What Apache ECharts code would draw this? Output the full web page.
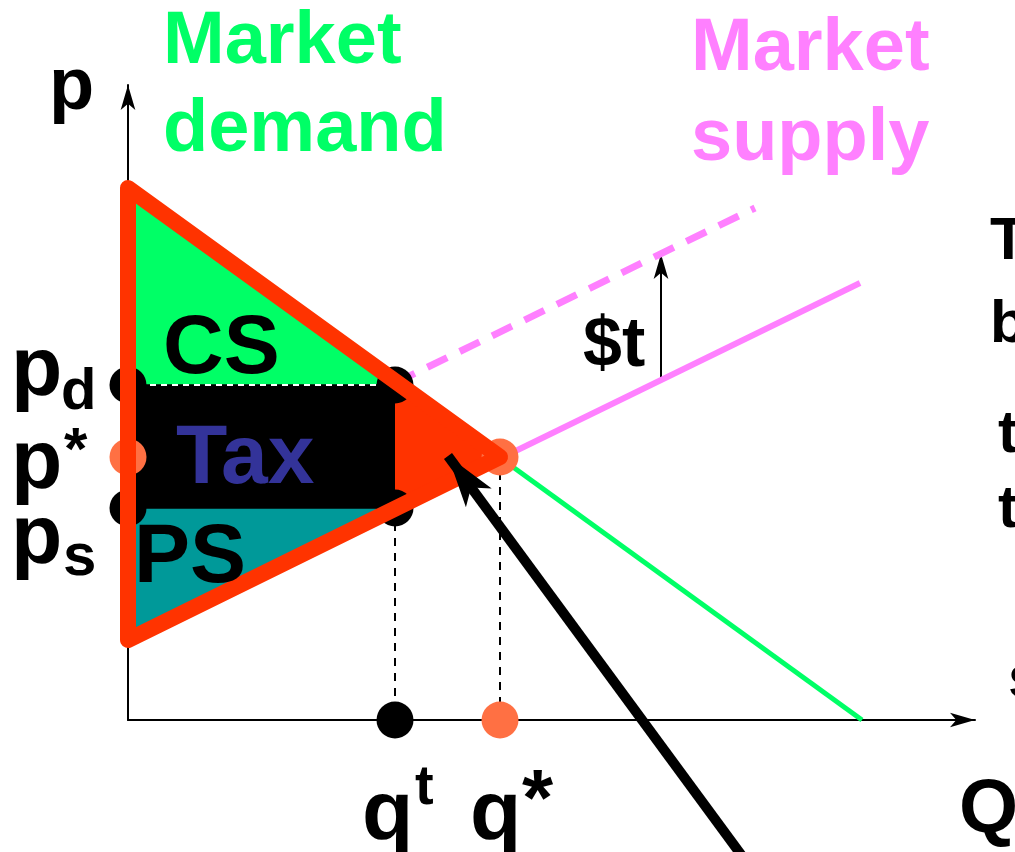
<!DOCTYPE html>
<html>
<head>
<meta charset="utf-8">
<script src="https://cdn.jsdelivr.net/npm/echarts@6/dist/echarts.min.js"></script>
<style>
  html, body { margin: 0; padding: 0; background: #fff; }
  #chart { width: 1015px; height: 852px; }
</style>
</head>
<body>
<div id="chart"></div>
<script>
// values (1 unit ~ 1 pixel)
const demandLine = [[0, 532], [734, 0]];
const supplyLine = [[0, 80], [732, 437]];
const taxedSupplyLine = [[267, 337], [627, 512]];
const pD = 335, pStar = 263, pS = 212;
const qT = 267, qStar = 372;
const taxArrow = [[533, 341], [533, 466]];
const pointerArrow = [[617, -140], [320, 264]];

const csArea = [[0, 532], [qT, pD], [0, pD]];
const taxArea = [[0, pD], [qT, pD], [qT, pS], [0, pS]];
const psArea = [[0, pS], [qT, pS], [0, 80]];
const dwlArea = [[qT, pD], [qStar, pStar], [qT, pS]];
const surplusTriangle = [[0, 532], [qStar, pStar], [0, 80]];

const blackDots = [[0, pD], [0, pS], [qT, pD], [qT, pS], [qT, 0]];
const orangeDots = [[0, pStar], [qStar, pStar], [qStar, 0]];

const RED = '#FF3300';
const GREEN = '#00FF66';
const PINK = '#FF80FF';
const ORANGE = '#FF7043';
const FONT = '"Liberation Sans", Arial, sans-serif';

const chart = echarts.init(document.getElementById('chart'));

const areas = [
  { pts: csArea, fill: GREEN, stroke: '#000', lineWidth: 1.5 },
  { pts: taxArea, fill: '#000', stroke: null, lineWidth: 0 },
  { pts: psArea, fill: '#009999', stroke: '#000', lineWidth: 1.5 },
  { pts: dwlArea, fill: RED, stroke: null, lineWidth: 0 }
];

function polySeries(list, z) {
  return {
    type: 'custom',
    z: z,
    clip: false,
    silent: true,
    data: list.map((a, i) => [i]),
    renderItem: function (params, api) {
      const a = list[params.dataIndex];
      return {
        type: 'polygon',
        shape: { points: a.pts.map(p => api.coord(p)) },
        style: {
          fill: a.fill,
          stroke: a.stroke,
          lineWidth: a.lineWidth,
          lineJoin: 'round'
        }
      };
    }
  };
}

function txt(text, x, y, size, color, z) {
  return {
    type: 'text',
    z: z || 100,
    style: {
      text: text,
      x: x,
      y: y,
      font: 'bold ' + size + 'px ' + FONT,
      fill: color || '#000',
      textVerticalAlign: 'middle'
    }
  };
}

const option = {
  animation: false,
  backgroundColor: '#fff',
  grid: { left: 128, right: 40, top: 85, bottom: 132 },
  xAxis: {
    type: 'value',
    min: 0,
    max: 847,
    axisLine: {
      show: true,
      lineStyle: { color: '#000', width: 2 },
      symbol: ['none', 'arrow'],
      symbolSize: [11, 25]
    },
    axisTick: { show: false },
    axisLabel: { show: false },
    splitLine: { show: false }
  },
  yAxis: {
    type: 'value',
    min: 0,
    max: 635,
    axisLine: {
      show: true,
      lineStyle: { color: '#000', width: 2 },
      symbol: ['none', 'arrow'],
      symbolSize: [11, 25]
    },
    axisTick: { show: false },
    axisLabel: { show: false },
    splitLine: { show: false }
  },
  series: [
    polySeries(areas, 1),
    {
      type: 'line',
      z: 2,
      data: [[0, pD], [qT, pD]],
      symbol: 'none',
      lineStyle: { color: '#fff', width: 2, type: [6, 5] }
    },
    {
      type: 'line',
      z: 2,
      data: [[qT, pS], [qT, 0]],
      symbol: 'none',
      lineStyle: { color: '#000', width: 2, type: [8, 7] }
    },
    {
      type: 'line',
      z: 2,
      data: [[qStar, pStar], [qStar, 0]],
      symbol: 'none',
      lineStyle: { color: '#000', width: 2, type: [8, 7] }
    },
    {
      type: 'line',
      z: 3,
      data: demandLine,
      symbol: 'none',
      lineStyle: { color: GREEN, width: 5 }
    },
    {
      type: 'line',
      z: 3,
      data: supplyLine,
      symbol: 'none',
      lineStyle: { color: PINK, width: 6 }
    },
    {
      type: 'line',
      z: 3,
      data: taxedSupplyLine,
      symbol: 'none',
      lineStyle: { color: PINK, width: 7, type: [22, 14] }
    },
    {
      type: 'lines',
      coordinateSystem: 'cartesian2d',
      z: 3,
      clip: false,
      symbol: ['none', 'arrow'],
      symbolSize: [[1, 1], [11, 25]],
      data: [{ coords: taxArrow }],
      lineStyle: { color: '#000', width: 2, opacity: 1 }
    },
    {
      type: 'scatter',
      z: 4,
      clip: false,
      symbolSize: 37,
      data: blackDots,
      itemStyle: { color: '#000', opacity: 1 }
    },
    {
      type: 'scatter',
      z: 4,
      clip: false,
      symbolSize: 37,
      data: orangeDots,
      itemStyle: { color: ORANGE, opacity: 1 }
    },
    polySeries([{ pts: surplusTriangle, fill: 'none', stroke: RED, lineWidth: 16 }], 5),
    {
      type: 'lines',
      coordinateSystem: 'cartesian2d',
      z: 6,
      clip: false,
      symbol: ['none', 'arrow'],
      symbolSize: [[1, 1], [24, 52]],
      data: [{ coords: pointerArrow }],
      lineStyle: { color: '#000', width: 10, opacity: 1 }
    }
  ],
  graphic: [
    txt('Market', 163, 43, 74, GREEN),
    txt('demand', 163, 131, 74, GREEN),
    txt('Market', 691, 50, 74, PINK),
    txt('supply', 691, 140, 74, PINK),
    txt('p', 49, 89, 74),
    txt('p', 11, 372, 84),
    txt('d', 61, 393, 58),
    txt('p', 11, 465, 84),
    txt('*', 64, 452, 60),
    txt('p', 11, 540, 84),
    txt('s', 63, 558, 60),
    txt('CS', 163, 350, 84),
    txt('Tax', 176, 460, 84, '#333399'),
    txt('PS', 134, 559, 84),
    txt('$t', 583, 347, 70),
    txt('q', 362, 816, 84),
    txt('t', 415, 789, 56),
    txt('q', 470, 816, 84),
    txt('*', 522, 803, 80),
    txt('Q', 959, 811, 76),
    txt('T', 990, 242, 60),
    txt('b', 990, 325, 60),
    txt('t', 998, 435, 60),
    txt('t', 998, 510, 60),
    txt('s', 1008, 680, 60)
  ]
};

chart.setOption(option);
</script>
</body>
</html>
